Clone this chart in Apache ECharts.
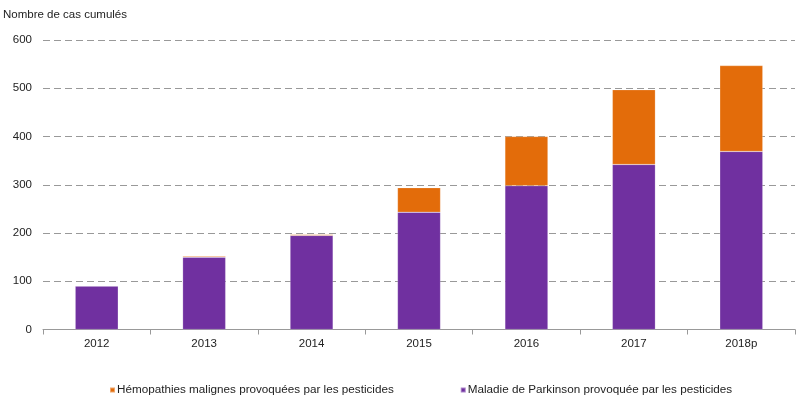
<!DOCTYPE html>
<html><head><meta charset="utf-8">
<script src="https://cdn.jsdelivr.net/npm/echarts@6/dist/echarts.min.js"></script>
<style>html,body{margin:0;padding:0;background:#fff}#c{width:800px;height:395px}</style>
</head><body><div id="c"></div>
<script>
const categories = ['2012','2013','2014','2015','2016','2017','2018p'];
const parkinson = [90, 150, 195, 243, 298, 342, 369];
const hemopathies = [0, 2, 2, 51, 102, 155, 178];
const seriesNames = ['Hémopathies malignes provoquées par les pesticides', 'Maladie de Parkinson provoquée par les pesticides'];
const yTicks = [0, 100, 200, 300, 400, 500, 600];

const font = 'Liberation Sans, Arial, sans-serif';
const chart = echarts.init(document.getElementById('c'));
chart.setOption({
  animation: false,
  textStyle: {fontFamily: font},
  title: {text: 'Nombre de cas cumulés', left: -2, top: 4, textStyle: {fontSize: 11.5, fontWeight: 'normal', color: '#222', fontFamily: font}},
  legend: {
    top: 379, left: 104, itemWidth: 5, itemHeight: 5, itemGap: 66,
    icon: 'rect',
    data: seriesNames,
    textStyle: {fontSize: 11.7, color: '#222', padding: [0,0,0,-3], fontFamily: font}
  },
  grid: {left: 43, right: 5, top: 40, bottom: 65.5, containLabel: false},
  xAxis: {
    type: 'category', data: categories, boundaryGap: true,
    axisLine: {lineStyle: {color: '#999'}},
    axisTick: {show: true, alignWithLabel: false, length: 5, lineStyle: {color: '#999'}},
    axisLabel: {color: '#222', fontSize: 11.5, margin: 8, fontFamily: font}
  },
  yAxis: {
    type: 'value', min: yTicks[0], max: yTicks[yTicks.length-1], interval: 100,
    axisLine: {show: false}, axisTick: {show: false},
    axisLabel: {color: '#222', fontSize: 11.5, margin: 11, fontFamily: font},
    splitLine: {lineStyle: {color: '#999', type: [7, 4], width: 1}}
  },
  series: [
    {name: seriesNames[1], type: 'bar', stack: 'a', data: parkinson, barWidth: 43,
     itemStyle: {color: '#7030A0', borderColor: 'rgba(255,255,255,0.4)', borderWidth: 0.5}},
    {name: seriesNames[0], type: 'bar', stack: 'a', data: hemopathies, barWidth: 43,
     itemStyle: {color: '#E36C0A', borderColor: 'rgba(255,255,255,0.4)', borderWidth: 0.5}}
  ]
});
</script></body></html>
